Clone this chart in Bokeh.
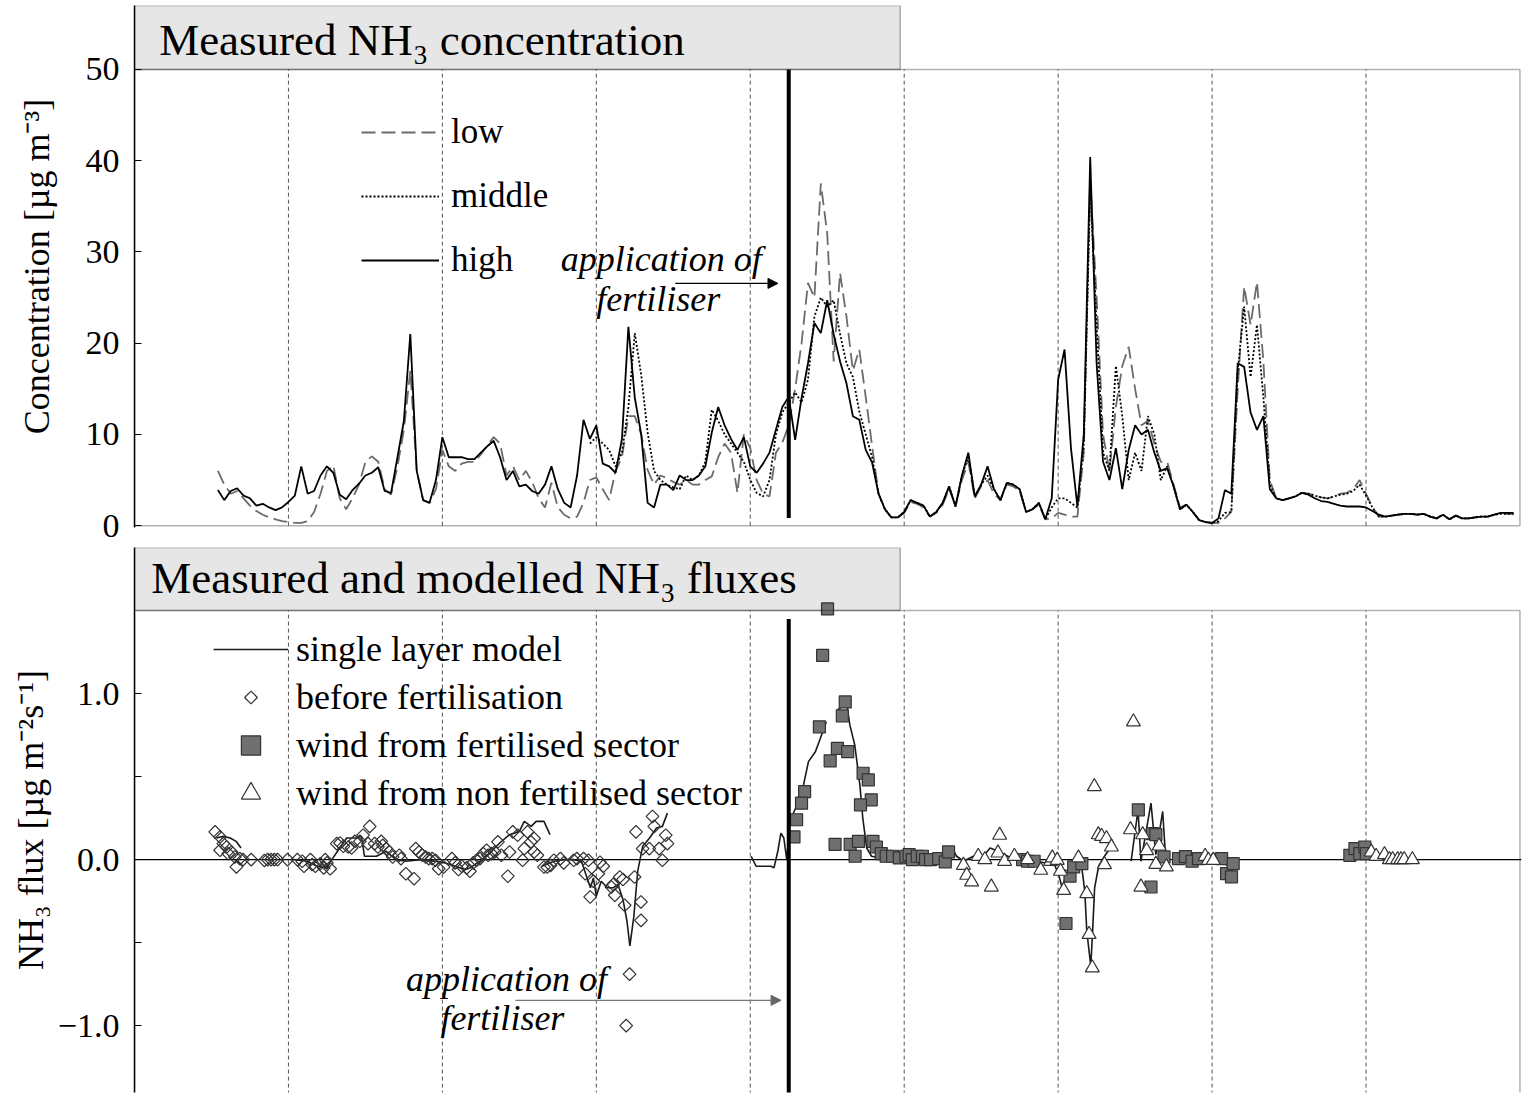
import numpy as np
from bokeh.plotting import figure
from bokeh.models import (BoxAnnotation, Label, Span, Legend, LegendItem, FixedTicker,
                          Arrow, NormalHead, CustomJSTickFormatter)
from bokeh.layouts import column
from bokeh.embed import file_html
from bokeh.resources import INLINE

FONT = "Liberation Serif"
nan = float("nan")

# ---------------- data ----------------
day_boundaries = [1, 2, 3, 4, 5, 6, 7, 8]
application_day = 4.25

# hourly concentrations [µg m-3]; hour counted from start of day 0
conc_start_hour = 13
conc_high = [
    3.9, 2.8, 3.8, 4.1, 3.3, 3.0, 2.2, 2.4, 2.0, 1.7,
    2.0, 2.6, 3.3, 6.5, 3.5, 3.8, 5.5, 6.5, 5.8, 3.4,
    2.9, 3.9, 4.6, 5.5, 5.8, 6.4, 3.8, 3.6, 7.5, 11.5,
    21.0, 6.0, 2.8, 2.5, 5.0, 9.7, 7.5, 7.5, 7.5, 7.3,
    7.3, 8.0, 8.7, 9.3, 7.5, 5.0, 6.0, 4.3, 4.5, 3.8,
    3.5, 4.5, 6.5, 4.0, 2.5, 2.0, 5.5, 11.6, 9.5, 11.0,
    6.8, 6.5, 5.8, 9.5, 21.8, 14.0, 10.0, 2.5, 2.0, 4.5,
    4.5, 3.9, 5.5, 5.0, 5.0, 5.5, 6.5, 10.2, 13.0, 11.0,
    9.5, 8.3, 9.7, 6.5, 5.8, 6.8, 8.0, 10.5, 13.0, 14.1,
    9.4, 14.0, 17.8, 22.2, 21.1, 24.7, 21.0, 18.0, 15.6, 12.0,
    11.6, 8.3, 6.9, 3.5, 1.8, 0.9, 0.9, 1.5, 2.8, 2.5,
    2.2, 1.0, 1.5, 2.5, 4.3, 2.1, 5.5, 8.0, 3.2, 4.5,
    6.5, 4.0, 2.8, 4.7, 4.5, 4.0, 1.5, 1.8, 2.5, 0.7,
    3.0, 16.0, 19.3, 8.5, 2.1, 10.0, 40.4, 17.8, 7.0, 5.0,
    8.5, 4.0, 8.3, 11.0, 10.0, 10.5, 8.0, 6.0, 6.3, 4.3,
    1.8, 2.3, 1.5, 0.6, 0.4, 0.3, 0.8, 3.9, 3.5, 17.8,
    17.4, 12.4, 10.5, 12.0, 4.0, 3.0, 2.8, 3.0, 3.2, 3.6,
    3.4, 3.0, 2.7, 2.6, 2.4, 2.2, 2.1, 2.1, 2.1, 2.0,
    1.6, 1.2, 1.0, 1.1, 1.2, 1.3, 1.3, 1.2, 1.3, 1.0,
    0.8, 1.2, 0.7, 1.1, 0.8, 0.8, 0.9, 1.0, 1.0, 1.2,
    1.4, 1.4, 1.4]
conc_low = [
    6.0, 4.5, 3.5, 3.8, 3.0, 2.2, 1.6, 1.2, 0.9, 0.7,
    0.5, 0.4, 0.3, 0.3, 0.5, 1.5, 3.5, 6.0, 6.6, 3.0,
    1.8, 3.0, 4.5, 7.0, 7.6, 7.0, 4.0, 3.4, 6.5, 10.5,
    17.0, 6.0, 2.8, 2.5, 4.0, 8.3, 6.5, 6.0, 6.8, 7.0,
    7.0, 7.8, 8.8, 9.7, 9.0, 5.5, 6.5, 5.0, 6.0, 4.8,
    3.0, 2.0, 4.7, 2.0, 1.2, 0.8, 1.0, 2.5, 5.0, 5.3,
    4.0, 2.8, 6.0, 7.5, 12.0, 12.0, 10.0, 6.1, 4.5, 5.5,
    5.2, 4.8, 4.5, 5.0, 4.5, 4.5, 5.0, 5.4, 7.5, 9.0,
    8.0, 3.6, 10.0, 8.5, 5.0, 3.5, 3.2, 8.0, 9.1, 11.0,
    15.0, 20.0, 26.6, 25.0, 37.5, 32.0, 18.0, 27.7, 22.9, 17.0,
    19.3, 14.1, 8.7, 3.5, 1.8, 0.9, 0.9, 1.4, 2.6, 2.4,
    2.0, 1.0, 1.4, 2.3, 4.0, 2.2, 5.0, 7.0, 3.0, 4.3,
    5.0, 3.5, 2.8, 4.5, 4.3, 3.8, 1.5, 1.8, 2.3, 0.7,
    0.8, 1.4, 1.2, 1.0, 1.0, 8.0, 38.0, 25.0, 10.0, 6.0,
    13.0, 17.5, 19.6, 15.0, 11.0, 11.5, 9.0, 7.0, 7.0, 4.5,
    2.0, 2.3, 1.5, 0.6, 0.4, 0.3, 0.3, 0.8, 1.5, 15.0,
    26.2, 22.0, 26.7, 18.0, 5.0, 3.0, 2.8, 3.0, 3.2, 3.6,
    3.5, 3.3, 3.1, 3.0, 3.2, 3.5, 3.6, 4.0, 5.0, 3.5,
    2.0, 1.0, 1.0, 1.1, 1.2, 1.3, 1.3, 1.2, 1.3, 1.0,
    0.8, 1.2, 0.7, 1.1, 0.8, 0.8, 0.9, 1.0, 1.0, 1.2,
    1.3, 1.3, 1.3]
mid_start_hour = 71
conc_middle = [
    9.0, 9.7, 9.0, 8.3, 6.5, 8.0, 13.0, 21.1, 16.5, 10.2,
    6.0, 5.0, 4.5, 4.2, 4.0, 5.5, 5.0, 5.5, 7.0, 12.7,
    11.5, 10.0, 9.0, 8.0, 7.0, 5.0, 3.6, 3.2, 5.0, 10.0,
    12.4, 13.5, 14.6, 13.5, 16.0, 22.9, 25.0, 24.0, 24.7, 21.0,
    17.8, 16.3, 12.5, 10.0, 7.5, 3.5, 1.8, 0.9, 0.9, 1.5,
    2.8, 2.5, 2.2, 1.0, 1.5, 2.5, 4.3, 2.1, 5.5, 7.5,
    3.2, 4.5, 5.5, 4.0, 2.8, 4.7, 4.5, 4.0, 1.5, 1.8,
    2.5, 0.7, 2.0, 3.0, 3.0, 2.5, 2.0, 9.0, 37.0, 22.0,
    8.0, 6.0, 17.5, 12.0, 5.0, 8.0, 6.0, 12.0, 10.0, 5.0,
    6.5, 4.3, 1.8, 2.3, 1.5, 0.6, 0.4, 0.3, 0.5, 1.4,
    1.5, 17.0, 24.0, 16.3, 22.0, 14.0, 4.5, 3.0, 2.8, 3.0,
    3.2, 3.6, 3.5, 3.3, 3.1, 3.0, 3.2, 3.4, 3.5, 3.8,
    4.5, 3.3, 2.0, 1.0, 1.0, 1.1, 1.2, 1.3, 1.3, 1.2,
    1.3, 1.0, 0.8, 1.2, 0.7, 1.1, 0.8, 0.8, 0.9, 1.0,
    1.0, 1.2, 1.3, 1.3, 1.3]

# single layer model flux [µg m-2 s-1] (nan = gap)
model_day = [
    0.532, 0.577, 0.622, 0.660, 0.692, nan,
    1.038, 1.122, 1.186, 1.250, 1.282, 1.333, 1.378, 1.442, 1.474, 1.494,
    1.571, 1.635, 1.699, 1.763, 1.859, 1.955, 2.019, 2.083, 2.147, 2.179,
    2.244, 2.308, 2.372, 2.436, 2.500, 2.532, 2.577, 2.609, 2.660, 2.699, nan,
    2.647, 2.724, 2.788, 2.853, 2.904, 2.936, 2.962, 2.981, 3.000, 3.032,
    3.071, 3.109, 3.141, 3.173, 3.199, 3.218, 3.244, 3.269, 3.301, 3.346,
    3.391, 3.429, 3.462, nan,
    4.006, 4.038, 4.071, 4.135, 4.154, 4.179, 4.199, 4.218, 4.237, 4.256,
    4.276, 4.314, 4.346, 4.378, 4.423, 4.455, 4.494, nan,
    4.564, 4.596, 4.628, 4.647, 4.679, 4.712, 4.731, 4.756, 4.788, 4.904,
    5.032, 5.160, 5.256, 5.288, 5.308, 5.340, 5.385, 5.449, 5.513, 5.558,
    5.609, 5.673, 5.737, 5.801, 5.865, 5.917, 5.962, 5.981, 6.006, 6.026,
    6.045, 6.071, 6.122, 6.154, 6.173, 6.186, 6.212, 6.224, 6.237, 6.263,
    6.301, 6.346, 6.365, nan,
    6.474, 6.519, 6.538, 6.603, 6.635, 6.679, 6.699, nan,
    6.782, 6.846, 6.936, 7.038, 7.115]
model_flux = [
    0.13, 0.14, 0.13, 0.11, 0.07, nan,
    0.0, -0.01, -0.04, -0.05, 0.0, 0.07, 0.13, 0.13, 0.14, 0.02,
    0.02, 0.05, 0.0, -0.01, 0.0, -0.01, -0.02, -0.04, -0.06, -0.05,
    -0.01, 0.04, 0.10, 0.15, 0.17, 0.23, 0.20, 0.23, 0.23, 0.15, nan,
    -0.04, -0.01, 0.0, 0.0, -0.01, -0.10, -0.17, -0.11, -0.22, -0.13,
    -0.17, -0.17, -0.15, -0.24, -0.37, -0.52, -0.34, -0.07, 0.08, 0.13,
    0.19, 0.20, 0.28, nan,
    0.02, -0.04, -0.04, -0.04, -0.05, 0.05, 0.16, 0.13, 0.0, 0.20,
    0.27, 0.35, 0.45, 0.59, 0.65, 0.73, 0.83, nan,
    0.90, 0.92, 0.93, 0.81, 0.69, 0.45, 0.25, 0.07, 0.02, 0.0,
    -0.01, -0.01, -0.005, 0.03, 0.08, 0.02, -0.01, 0.02, 0.02, 0.07,
    0.05, 0.02, 0.0, -0.01, -0.01, -0.02, -0.02, -0.04, -0.10, -0.17,
    -0.11, -0.05, -0.04, -0.05, -0.19, -0.43, -0.64, -0.43, -0.17, -0.04,
    0.02, 0.08, 0.07, nan,
    -0.01, 0.30, -0.01, 0.34, 0.03, 0.29, 0.0, nan,
    0.0, -0.01, -0.01, -0.01, -0.04]

# measured fluxes before fertilisation
before_day = [
    0.524, 0.556, 0.577, 0.556, 0.598, 0.609, 0.630, 0.652, 0.662, 0.684,
    0.705, 0.758, 0.844, 0.865, 0.887, 0.908, 0.929, 0.994, 1.058, 1.090,
    1.101, 1.143, 1.154, 1.175, 1.207, 1.229, 1.271, 1.239, 1.250, 1.314,
    1.335, 1.357, 1.389, 1.410, 1.431, 1.464, 1.485, 1.517, 1.528, 1.560,
    1.581, 1.603, 1.613, 1.635, 1.656, 1.677, 1.720, 1.731, 1.763, 1.816,
    1.827, 1.848, 1.870, 1.891, 1.912, 1.934, 1.955, 1.976, 2.008, 2.062,
    2.083, 2.105, 2.126, 2.158, 2.179, 2.201, 2.222, 2.244, 2.265, 2.287,
    2.297, 2.319, 2.340, 2.361, 2.383, 2.425, 2.436, 2.457, 2.489, 2.521,
    2.532, 2.553, 2.575, 2.596, 2.596, 2.617, 2.660, 2.681, 2.703, 2.724,
    2.767, 2.788, 2.853, 2.874, 2.917, 2.928, 2.949, 2.960, 2.981, 3.013,
    3.024, 3.045, 3.098, 3.109, 3.120, 3.152, 3.173, 3.184, 3.216, 3.194,
    3.248, 3.258, 3.290, 3.290, 3.301, 3.344, 3.365, 3.376, 3.408, 3.429,
    3.451, 3.462]
before_flux = [
    0.167, 0.137, 0.096, 0.056, 0.076, 0.036, 0.046, 0.016, -0.044, 0.006,
    0.0, 0.0, -0.005, 0.0, 0.0, 0.0, 0.0, 0.0, 0.0, -0.01,
    -0.04, 0.0, -0.03, -0.04, -0.025, -0.05, -0.055, 0.0, -0.02, 0.096,
    0.10, 0.08, 0.076, 0.07, 0.11, 0.11, 0.147, 0.096, 0.20, 0.096,
    0.076, 0.11, 0.086, 0.066, 0.046, 0.016, 0.026, 0.006, -0.085, -0.115,
    0.066, 0.046, 0.026, 0.016, 0.006, 0.006, -0.004, -0.055, -0.045, 0.006,
    -0.02, -0.06, -0.04, -0.05, -0.07, -0.02, -0.004, 0.006, 0.036, 0.056,
    0.026, 0.036, 0.046, 0.107, 0.026, -0.10, 0.046, 0.167, 0.147, -0.004,
    0.066, 0.167, 0.107, 0.127, 0.046, 0.026, -0.045, -0.045, -0.035, -0.004,
    0.006, -0.02, -0.004, 0.006, 0.006, -0.085, -0.004, -0.225, -0.13, -0.085,
    -0.016, -0.04, -0.165, -0.15, -0.215, -0.105, -0.12, -0.275, -0.69, -1.0,
    -0.105, 0.167, -0.255, -0.366, 0.066, 0.066, 0.26, 0.20, 0.066, -0.004,
    0.147, 0.096]

# wind from fertilised sector
fert_day = [
    4.502, 4.470, 4.617, 4.598, 4.449, 4.566, 4.633, 4.519, 4.733, 4.767,
    4.353, 4.786, 4.333, 4.716, 4.301, 4.284, 4.551, 4.649, 4.703, 4.797,
    4.819, 4.681, 4.851, 4.883, 4.925, 4.968, 5.011, 5.032, 5.053, 5.085,
    5.118, 5.139, 5.171, 5.224, 5.267, 5.288, 5.769, 5.801, 5.844, 6.051,
    6.077, 6.101, 6.154, 6.521, 6.603, 6.613, 6.635, 6.688, 6.782, 6.827,
    6.870, 6.912, 7.062, 7.094, 7.126, 7.137, 7.895, 7.928, 7.960, 7.992,
    8.002]
fert_flux = [
    1.51, 1.23, 0.95, 0.866, 0.80, 0.67, 0.65, 0.595, 0.52, 0.48,
    0.41, 0.36, 0.34, 0.33, 0.24, 0.137, 0.092, 0.092, 0.11, 0.11,
    0.076, 0.02, 0.036, 0.02, 0.02, 0.01, 0.02, 0.03, 0.0, 0.02,
    0.02, 0.0, 0.0, 0.006, -0.014, 0.046, 0.0, -0.01, -0.01, -0.385,
    -0.10, -0.044, -0.024, 0.30, -0.165, 0.157, 0.15, 0.016, 0.006, 0.018,
    -0.01, 0.006, 0.006, -0.084, -0.104, -0.024, 0.026, 0.066, 0.036, 0.076,
    0.036]

# wind from non fertilised sector
nonfert_day = [
    5.620, 5.385, 5.406, 5.438, 5.566, 5.481, 5.524, 5.609, 5.652, 5.716,
    5.801, 5.887, 5.951, 6.036, 6.132, 6.186, 6.201, 6.222, 6.235, 6.261,
    6.282, 6.314, 6.301, 6.346, 6.489, 6.470, 6.549, 6.575, 6.656, 6.538,
    6.635, 6.703, 6.955, 6.976, 7.008, 8.034, 8.066, 8.120, 8.152, 8.173,
    8.205, 8.227, 8.248, 8.301, 5.962, 5.994, 6.015]
nonfert_flux = [
    0.147, -0.034, -0.094, -0.134, -0.165, 0.02, 0.0, 0.04, -0.01, 0.02,
    0.0, -0.064, -0.01, -0.185, 0.01, -0.205, -0.45, -0.652, 0.44, 0.15,
    0.14, 0.127, -0.03, 0.076, 0.83, 0.18, 0.15, 0.054, 0.082, -0.165,
    -0.028, -0.044, 0.02, -0.004, -0.004, 0.046, 0.02, 0.03, 0.0, 0.0,
    0.0, 0.0, 0.0, 0.0, 0.01, -0.004, -0.07]

conc_ticks = [0, 10, 20, 30, 40, 50]
flux_ticks = [-1, 0, 1]
flux_minor_ticks = [-0.5, 0.5]

# ---------------- helpers ----------------
W = 1523
X_END = 9.01
TITLE_RIGHT = 4.974
BORDER_LEFT = 134


def base_fig(height, y0, y1, mbt, mbb):
    p = figure(width=W, height=height, x_range=(0, X_END), y_range=(y0, y1),
               output_backend="svg", toolbar_location=None,
               min_border_left=BORDER_LEFT, min_border_right=2,
               min_border_top=mbt, min_border_bottom=mbb)
    p.xaxis.visible = False
    p.xgrid.visible = False
    p.ygrid.visible = False
    p.outline_line_color = None
    ax = p.yaxis[0]
    ax.axis_line_color = "black"
    ax.axis_line_width = 1.5
    ax.major_tick_in = 7
    ax.major_tick_out = 0
    ax.minor_tick_in = 7
    ax.minor_tick_out = 0
    ax.major_tick_line_color = "black"
    ax.minor_tick_line_color = "black"
    ax.major_tick_line_width = 1.2
    ax.minor_tick_line_width = 1.2
    ax.major_label_text_font = FONT
    ax.major_label_text_font_size = "34px"
    ax.major_label_text_color = "black"
    ax.major_label_standoff = 15
    ax.axis_label_text_font = FONT
    ax.axis_label_text_font_style = "normal"
    ax.axis_label_text_font_size = "36px"
    ax.axis_label_text_color = "black"
    return p


def text_label(x, y, text, size, italic=False, baseline="alphabetic"):
    return Label(x=x, y=y, text=text, text_font=FONT, text_color="black",
                 text_font_style="italic" if italic else "normal",
                 text_font_size=size, text_baseline=baseline)


# ---------------- top panel: concentrations ----------------
p1 = base_fig(544, -0.2, 57, 5, 17)
p1.yaxis[0].ticker = FixedTicker(ticks=conc_ticks, minor_ticks=[])
p1.yaxis[0].axis_label = "Concentration [µg m⁻³]"
p1.yaxis[0].axis_label_standoff = 26

p1.add_layout(BoxAnnotation(left=0, right=TITLE_RIGHT, bottom=50, top=57,
                            fill_color="#e6e6e6", fill_alpha=1.0,
                            line_color="black", line_width=1.5, level="underlay"))
p1.add_layout(BoxAnnotation(left=0, right=9, bottom=0, top=50, fill_alpha=0.0,
                            line_color="black", line_width=1.5))
p1.segment(x0=day_boundaries, y0=0, x1=day_boundaries, y1=50,
           line_color="#555555", line_width=1, line_dash="4 3")

t_hl = (conc_start_hour + np.arange(len(conc_high))) / 24.0
t_low = (conc_start_hour + np.arange(len(conc_low))) / 24.0
t_mid = (mid_start_hour + np.arange(len(conc_middle))) / 24.0
r_low = p1.line(t_low, np.array(conc_low), line_color="#6b6b6b", line_width=1.8, line_dash="14 6")
r_mid = p1.line(t_mid, np.array(conc_middle), line_color="black", line_width=1.8, line_dash="2 2")
r_high = p1.line(t_hl, np.array(conc_high), line_color="black", line_width=1.8)

p1.segment(x0=[application_day], y0=[0.85], x1=[application_day], y1=[50],
           line_color="black", line_width=4)
p1.add_layout(Arrow(end=NormalHead(size=10, fill_color="black", line_color="black"),
                    x_start=3.513, y_start=26.55, x_end=application_day - 0.07, y_end=26.55,
                    line_color="black", line_width=1.2))
p1.add_layout(text_label(2.769, 29.2, "application of", "36px", italic=True))
p1.add_layout(text_label(3.0, 24.8, "fertiliser", "36px", italic=True))
p1.add_layout(text_label(0.16, 53.2, "Measured NH₃ concentration", "45px", baseline="middle"))

leg1 = Legend(items=[LegendItem(label="low", renderers=[r_low]),
                     LegendItem(label="middle", renderers=[r_mid]),
                     LegendItem(label="high", renderers=[r_high])],
              location=(227, 235), orientation="vertical",
              glyph_width=78, glyph_height=64, label_height=64, spacing=0,
              padding=0, margin=0, label_standoff=12,
              border_line_color=None, background_fill_alpha=0.0,
              label_text_font=FONT, label_text_font_size="35px", label_text_color="black")
p1.add_layout(leg1)

# ---------------- bottom panel: fluxes ----------------
p2 = base_fig(550, -1.403, 1.88, 3, 2)
p2.yaxis[0].ticker = FixedTicker(ticks=flux_ticks, minor_ticks=flux_minor_ticks)
p2.yaxis[0].formatter = CustomJSTickFormatter(
    code="return (tick < 0 ? '\u2212' : '') + Math.abs(tick).toFixed(1);")
p2.yaxis[0].axis_label = "NH₃ flux [µg m⁻²s⁻¹]"
p2.yaxis[0].axis_label_standoff = 4

p2.add_layout(BoxAnnotation(left=0, right=TITLE_RIGHT, bottom=1.5, top=1.88,
                            fill_color="#e6e6e6", fill_alpha=1.0,
                            line_color="black", line_width=1.5, level="underlay"))
p2.add_layout(BoxAnnotation(left=0, right=9, bottom=-1.5, top=1.5, fill_alpha=0.0,
                            line_color="black", line_width=1.5))
p2.add_layout(Span(location=0, dimension="width", line_color="black",
                   line_width=1.2, level="underlay"))
p2.segment(x0=day_boundaries, y0=-1.5, x1=day_boundaries, y1=1.5,
           line_color="#555555", line_width=1, line_dash="4 3")

DIAMOND_SIZE = 9
r_model = p2.line(np.array(model_day), np.array(model_flux), line_color="#1a1a1a", line_width=1.6)
p2.scatter(before_day, before_flux, marker="square", angle=np.pi / 4, size=DIAMOND_SIZE,
           fill_alpha=0.0, line_color="#333333", line_width=1.2)
r_fert = p2.scatter(fert_day, fert_flux, marker="square", size=12,
                    fill_color="#707070", line_color="#333333", line_width=1.2)
r_nonfert = p2.scatter(nonfert_day, nonfert_flux, marker="triangle", size=14,
                       fill_color="white", line_color="#333333", line_width=1.2)

# legend key for the (rotated-square) diamond marker: the legend cannot rotate
# markers, so an empty proxy renderer carries the label and the key is drawn in place
r_before_proxy = p2.scatter([], [], marker="square", size=8, fill_alpha=0.0, line_alpha=0.0)
legend_x0, legend_y0 = 79, 275          # legend bottom-left, px from frame bottom-left
row_h = 48
glyph_w = 75
px_per_day = (W - BORDER_LEFT - 2) / X_END
px_per_flux = (550 - 3 - 2) / (1.88 + 1.403)
key_day = (legend_x0 + glyph_w / 2) / px_per_day
key_flux = -1.403 + (legend_y0 + 2.5 * row_h) / px_per_flux
p2.scatter([key_day], [key_flux], marker="square", angle=np.pi / 4, size=DIAMOND_SIZE,
           fill_alpha=0.0, line_color="#333333", line_width=1.2)

p2.segment(x0=[application_day], y0=[-1.45], x1=[application_day], y1=[1.45],
           line_color="black", line_width=4)
p2.add_layout(Arrow(end=NormalHead(size=10, fill_color="#666666", line_color="#666666"),
                    x_start=2.474, y_start=-0.848, x_end=application_day - 0.05, y_end=-0.848,
                    line_color="#777777", line_width=1.2))
p2.add_layout(text_label(1.763, -0.722, "application of", "36px", italic=True))
p2.add_layout(text_label(1.987, -0.955, "fertiliser", "36px", italic=True))
p2.add_layout(text_label(0.109, 1.695, "Measured and modelled NH₃ fluxes", "45px", baseline="middle"))

leg2 = Legend(items=[LegendItem(label="single layer model", renderers=[r_model]),
                     LegendItem(label="before fertilisation", renderers=[r_before_proxy]),
                     LegendItem(label="wind from fertilised sector", renderers=[r_fert]),
                     LegendItem(label="wind from non fertilised sector", renderers=[r_nonfert])],
              location=(legend_x0, legend_y0), orientation="vertical",
              glyph_width=glyph_w, glyph_height=row_h, label_height=row_h, spacing=0,
              padding=0, margin=0, label_standoff=8,
              border_line_color=None, background_fill_alpha=0.0,
              label_text_font=FONT, label_text_font_size="36px", label_text_color="black")
p2.add_layout(leg2)

layout = column(p1, p2)
open("out.html", "w").write(file_html(layout, INLINE))
